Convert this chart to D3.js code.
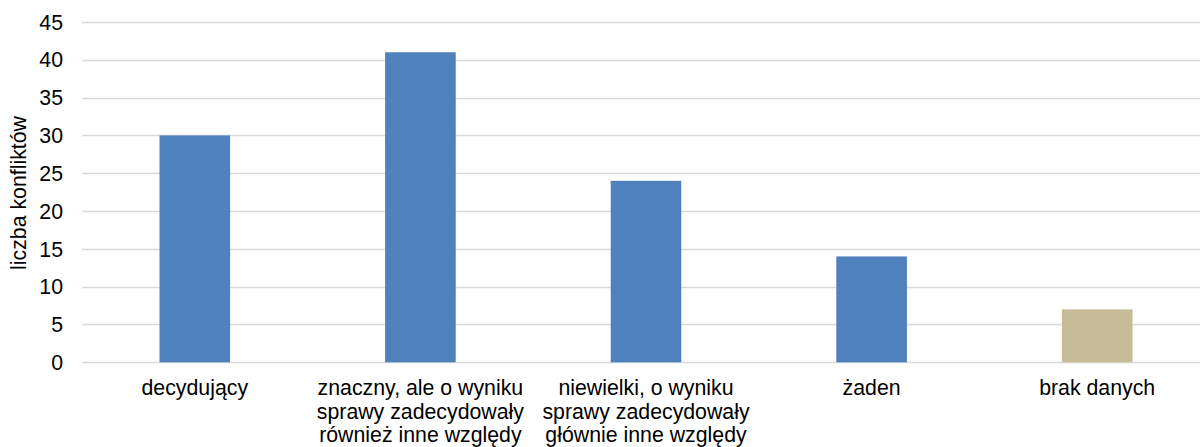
<!DOCTYPE html>
<html><head><meta charset="utf-8">
<script src="https://cdn.jsdelivr.net/npm/d3@7"></script>
<style>body{margin:0;background:#fff}svg{display:block}</style>
</head><body>
<svg id="c" width="1200" height="447"></svg>
<script>
const categories = [
  ["decydujący"],
  ["znaczny, ale o wyniku", "sprawy zadecydowały", "również inne względy"],
  ["niewielki, o wyniku", "sprawy zadecydowały", "głównie inne względy"],
  ["żaden"],
  ["brak danych"]
];
const values = [30, 41, 24, 14, 7];
const barColors = ["#4f81bd", "#4f81bd", "#4f81bd", "#4f81bd", "#c4bd97"];
const yTicks = [0, 5, 10, 15, 20, 25, 30, 35, 40, 45];
const yTitle = "liczba konfliktów";

(function () {
const svg = d3.select("#c");
const font = "'Liberation Sans', Arial, sans-serif";
const fs = 21.3;
const pLeft = 82, pRight = 1210, pTop = 22, pBottom = 362.3;

const x = d3.scaleBand().domain(d3.range(values.length)).range([pLeft, pRight])
  .paddingInner(0.687).paddingOuter(0.687 / 2);
const y = d3.scaleLinear().domain([0, 45]).range([pBottom, pTop]);

svg.append("g").selectAll("line").data(yTicks).join("line")
  .attr("x1", pLeft).attr("x2", 1200)
  .attr("y1", d => Math.round(y(d)) + 0.5).attr("y2", d => Math.round(y(d)) + 0.5)
  .attr("stroke", "#d9d9d9").attr("stroke-width", 1.3);

svg.append("g").selectAll("text").data(yTicks).join("text")
  .attr("x", 63).attr("y", d => y(d)).attr("dy", "0.36em")
  .attr("text-anchor", "end").attr("font-family", font).attr("font-size", fs)
  .attr("fill", "#000").text(d => d);

svg.append("g").selectAll("rect").data(values).join("rect")
  .attr("x", (d, i) => x(i)).attr("width", x.bandwidth())
  .attr("y", d => y(d)).attr("height", d => y(0) - y(d))
  .attr("fill", (d, i) => barColors[i]);

const xl = svg.append("g").selectAll("text").data(categories).join("text")
  .attr("text-anchor", "middle").attr("font-family", font).attr("font-size", fs)
  .attr("fill", "#000");
xl.each(function(lines, i) {
  d3.select(this).selectAll("tspan").data(lines).join("tspan")
    .attr("x", x(i) + x.bandwidth() / 2)
    .attr("y", (d, j) => 395 + j * 23.5)
    .text(d => d);
});

svg.append("text")
  .attr("transform", "translate(26,193) rotate(-90)")
  .attr("text-anchor", "middle").attr("font-family", font).attr("font-size", fs)
  .attr("fill", "#000").text(yTitle);
})();
</script>
</body></html>
